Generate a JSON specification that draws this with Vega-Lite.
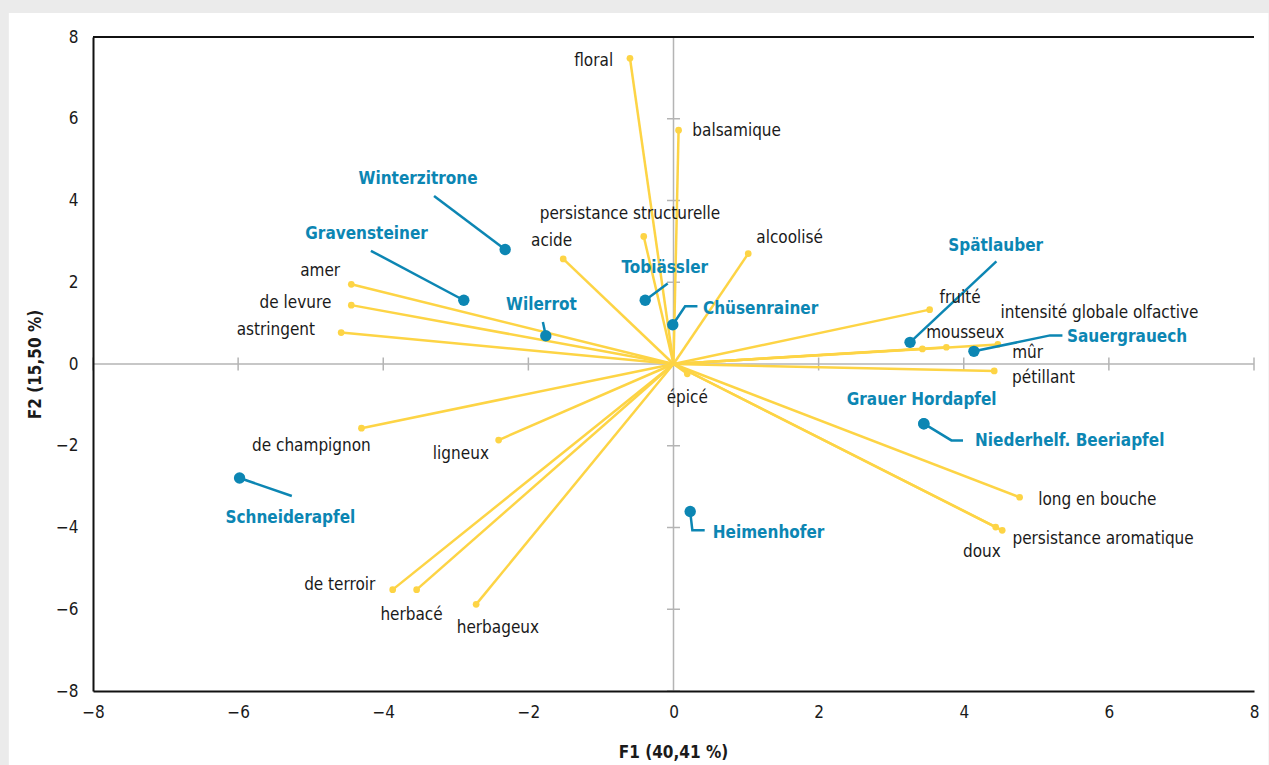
{
  "$schema": "https://vega.github.io/schema/vega-lite/v6.json",
  "autosize": {"type": "none"},
  "width": 1161,
  "height": 654,
  "padding": {"left": 93, "top": 37, "right": 15, "bottom": 74},
  "background": "#ebebeb",
  "config": {
    "view": {"stroke": null},
    "font": "Liberation Sans Narrow, DejaVu Sans Condensed, Roboto"
  },
  "datasets": {
    "vars": [
      {"name": "floral", "x": -0.60, "y": 7.48, "lx": -1.10, "ly": 7.42},
      {"name": "balsamique", "x": 0.07, "y": 5.72, "lx": 0.87, "ly": 5.70},
      {"name": "persistance structurelle", "x": -0.41, "y": 3.12, "lx": -0.60, "ly": 3.66},
      {"name": "acide", "x": -1.52, "y": 2.57, "lx": -1.68, "ly": 3.00},
      {"name": "alcoolisé", "x": 1.03, "y": 2.70, "lx": 1.60, "ly": 3.08},
      {"name": "amer", "x": -4.44, "y": 1.95, "lx": -4.87, "ly": 2.28},
      {"name": "de levure", "x": -4.44, "y": 1.44, "lx": -5.21, "ly": 1.49},
      {"name": "astringent", "x": -4.58, "y": 0.77, "lx": -5.48, "ly": 0.84},
      {"name": "fruité", "x": 3.53, "y": 1.33, "lx": 3.95, "ly": 1.62},
      {"name": "mousseux", "x": 3.43, "y": 0.37, "lx": 4.02, "ly": 0.77},
      {"name": "intensité globale olfactive", "x": 3.76, "y": 0.41, "lx": 5.87, "ly": 1.25},
      {"name": "mûr", "x": 4.47, "y": 0.48, "lx": 4.88, "ly": 0.27},
      {"name": "pétillant", "x": 4.42, "y": -0.17, "lx": 5.10, "ly": -0.35},
      {"name": "épicé", "x": 0.19, "y": -0.24, "lx": 0.19, "ly": -0.82},
      {"name": "long en bouche", "x": 4.77, "y": -3.26, "lx": 5.84, "ly": -3.32},
      {"name": "doux", "x": 4.44, "y": -3.99, "lx": 4.25, "ly": -4.60},
      {"name": "persistance aromatique", "x": 4.53, "y": -4.07, "lx": 5.92, "ly": -4.27},
      {"name": "de champignon", "x": -4.30, "y": -1.57, "lx": -4.99, "ly": -2.01},
      {"name": "ligneux", "x": -2.41, "y": -1.86, "lx": -2.93, "ly": -2.19},
      {"name": "de terroir", "x": -3.87, "y": -5.52, "lx": -4.60, "ly": -5.40},
      {"name": "herbacé", "x": -3.54, "y": -5.52, "lx": -3.61, "ly": -6.13},
      {"name": "herbageux", "x": -2.72, "y": -5.88, "lx": -2.42, "ly": -6.45}
    ],
    "obs": [
      {"name": "Winterzitrone", "x": -2.32, "y": 2.80, "lx": -3.52, "ly": 4.52},
      {"name": "Gravensteiner", "x": -2.89, "y": 1.56, "lx": -4.23, "ly": 3.17},
      {"name": "Wilerrot", "x": -1.76, "y": 0.69, "lx": -1.82, "ly": 1.44},
      {"name": "Tobiässler", "x": -0.39, "y": 1.56, "lx": -0.12, "ly": 2.34},
      {"name": "Chüsenrainer", "x": -0.01, "y": 0.96, "lx": 1.20, "ly": 1.34},
      {"name": "Spätlauber", "x": 3.26, "y": 0.53, "lx": 4.44, "ly": 2.89},
      {"name": "Sauergrauech", "x": 4.14, "y": 0.31, "lx": 6.25, "ly": 0.65},
      {"name": "Grauer Hordapfel", "x": 3.45, "y": -1.46, "lx": 3.42, "ly": -0.87},
      {"name": "Niederhelf. Beeriapfel", "x": 3.45, "y": -1.46, "lx": 5.46, "ly": -1.88},
      {"name": "Schneiderapfel", "x": -5.98, "y": -2.79, "lx": -5.28, "ly": -3.76},
      {"name": "Heimenhofer", "x": 0.23, "y": -3.61, "lx": 1.31, "ly": -4.14}
    ],
    "leaders": [
      {"obs": "Winterzitrone", "seq": 1, "x": -2.32, "y": 2.80},
      {"obs": "Winterzitrone", "seq": 2, "x": -3.30, "y": 4.11},
      {"obs": "Gravensteiner", "seq": 1, "x": -2.89, "y": 1.56},
      {"obs": "Gravensteiner", "seq": 2, "x": -4.17, "y": 2.77},
      {"obs": "Wilerrot", "seq": 1, "x": -1.76, "y": 0.69},
      {"obs": "Wilerrot", "seq": 2, "x": -1.80, "y": 1.03},
      {"obs": "Tobiässler", "seq": 1, "x": -0.39, "y": 1.56},
      {"obs": "Tobiässler", "seq": 2, "x": -0.08, "y": 1.97},
      {"obs": "Chüsenrainer", "seq": 1, "x": -0.01, "y": 0.96},
      {"obs": "Chüsenrainer", "seq": 2, "x": 0.16, "y": 1.41},
      {"obs": "Chüsenrainer", "seq": 3, "x": 0.33, "y": 1.41},
      {"obs": "Spätlauber", "seq": 1, "x": 3.26, "y": 0.53},
      {"obs": "Spätlauber", "seq": 2, "x": 4.45, "y": 2.51},
      {"obs": "Sauergrauech", "seq": 1, "x": 4.14, "y": 0.31},
      {"obs": "Sauergrauech", "seq": 2, "x": 5.19, "y": 0.70},
      {"obs": "Sauergrauech", "seq": 3, "x": 5.36, "y": 0.70},
      {"obs": "Niederhelf. Beeriapfel", "seq": 1, "x": 3.45, "y": -1.46},
      {"obs": "Niederhelf. Beeriapfel", "seq": 2, "x": 3.83, "y": -1.87},
      {"obs": "Niederhelf. Beeriapfel", "seq": 3, "x": 3.99, "y": -1.87},
      {"obs": "Schneiderapfel", "seq": 1, "x": -5.98, "y": -2.79},
      {"obs": "Schneiderapfel", "seq": 2, "x": -5.26, "y": -3.23},
      {"obs": "Heimenhofer", "seq": 1, "x": 0.23, "y": -3.61},
      {"obs": "Heimenhofer", "seq": 2, "x": 0.26, "y": -4.07},
      {"obs": "Heimenhofer", "seq": 3, "x": 0.43, "y": -4.07}
    ],
    "ticks": [{"v": -8, "z": 0}, {"v": -6, "z": 0}, {"v": -4, "z": 0}, {"v": -2, "z": 0}, {"v": 2, "z": 0}, {"v": 4, "z": 0}, {"v": 6, "z": 0}, {"v": 8, "z": 0}]
  },
  "layer": [
    {
      "data": {"values": [{"x1": -9.16, "x2": 8.2, "y1": 8.585, "y2": -9.82}]},
      "mark": {"type": "rect", "color": "white", "clip": false},
      "encoding": {
        "x": {"field": "x1", "type": "quantitative", "scale": {"domain": [-8, 8], "nice": false, "zero": false},
          "axis": {"values": [-8, -6, -4, -2, 0, 2, 4, 6, 8], "format": "d", "grid": false, "ticks": false, "domainColor": "#111", "domainWidth": 2, "zindex": 1,
            "labelFontSize": 17, "labelColor": "#1a1a1a", "labelPadding": 13, "labelFlush": false,
            "title": "F1 (40,41 %)", "titleFontSize": 17, "titleFontWeight": "bold", "titleColor": "#1a1a1a",
            "titleX": 580, "titleY": 61, "titleBaseline": "middle", "titleAnchor": "middle"}},
        "x2": {"field": "x2"},
        "y": {"field": "y1", "type": "quantitative", "scale": {"domain": [-8, 8], "nice": false, "zero": false},
          "axis": {"values": [-8, -6, -4, -2, 0, 2, 4, 6, 8], "format": "d", "grid": false, "ticks": false, "domainColor": "#111", "domainWidth": 2, "zindex": 1,
            "labelFontSize": 17, "labelColor": "#1a1a1a", "labelPadding": 15, "labelFlush": false,
            "title": "F2 (15,50 %)", "titleFontSize": 17, "titleFontWeight": "bold", "titleColor": "#1a1a1a",
            "titleX": -58, "titleY": 327, "titleAngle": -90, "titleBaseline": "middle", "titleAlign": "center"}},
        "y2": {"field": "y2"}
      }
    },
    {
      "data": {"values": [{"z": 0}]},
      "mark": {"type": "rule", "color": "#b4b4b4", "strokeWidth": 1.5},
      "encoding": {"x": {"field": "z", "type": "quantitative"}}
    },
    {
      "data": {"values": [{"z": 0}]},
      "mark": {"type": "rule", "color": "#b4b4b4", "strokeWidth": 1.5},
      "encoding": {"y": {"field": "z", "type": "quantitative"}}
    },
    {
      "data": {"name": "ticks"},
      "mark": {"type": "point", "shape": "M0,-1L0,1", "size": 169, "filled": false, "stroke": "#b4b4b4", "strokeWidth": 1.5, "opacity": 1},
      "encoding": {"x": {"field": "v", "type": "quantitative"}, "y": {"field": "z", "type": "quantitative"}}
    },
    {
      "data": {"name": "ticks"},
      "mark": {"type": "point", "shape": "M-1,0L1,0", "size": 169, "filled": false, "stroke": "#b4b4b4", "strokeWidth": 1.5, "opacity": 1},
      "encoding": {"y": {"field": "v", "type": "quantitative"}, "x": {"field": "z", "type": "quantitative"}}
    },
    {
      "data": {"values": [{"t": 8}]},
      "mark": {"type": "rule", "color": "#111", "strokeWidth": 2},
      "encoding": {"y": {"field": "t", "type": "quantitative"}}
    },
    {
      "data": {"name": "vars"},
      "mark": {"type": "rule", "color": "#fdd445", "strokeWidth": 2.5},
      "encoding": {
        "x": {"field": "x", "type": "quantitative"},
        "y": {"field": "y", "type": "quantitative"},
        "x2": {"datum": 0},
        "y2": {"datum": 0}
      }
    },
    {
      "data": {"name": "vars"},
      "mark": {"type": "circle", "color": "#fdd445", "opacity": 1, "size": 45},
      "encoding": {"x": {"field": "x", "type": "quantitative"}, "y": {"field": "y", "type": "quantitative"}}
    },
    {
      "data": {"name": "leaders"},
      "mark": {"type": "line", "color": "#0c86b3", "strokeWidth": 2.5, "strokeJoin": "miter"},
      "encoding": {
        "x": {"field": "x", "type": "quantitative"},
        "y": {"field": "y", "type": "quantitative"},
        "detail": {"field": "obs", "type": "nominal"},
        "order": {"field": "seq", "type": "quantitative"}
      }
    },
    {
      "data": {"name": "obs"},
      "mark": {"type": "circle", "color": "#0c86b3", "opacity": 1, "size": 130},
      "encoding": {"x": {"field": "x", "type": "quantitative"}, "y": {"field": "y", "type": "quantitative"}}
    },
    {
      "data": {"name": "vars"},
      "mark": {"type": "text", "fontSize": 17, "color": "#1a1a1a", "align": "center", "baseline": "middle"},
      "encoding": {"x": {"field": "lx", "type": "quantitative"}, "y": {"field": "ly", "type": "quantitative"}, "text": {"field": "name", "type": "nominal"}}
    },
    {
      "data": {"name": "obs"},
      "mark": {"type": "text", "fontSize": 17, "fontWeight": "bold", "color": "#0c86b3", "align": "center", "baseline": "middle"},
      "encoding": {"x": {"field": "lx", "type": "quantitative"}, "y": {"field": "ly", "type": "quantitative"}, "text": {"field": "name", "type": "nominal"}}
    }
  ]
}
